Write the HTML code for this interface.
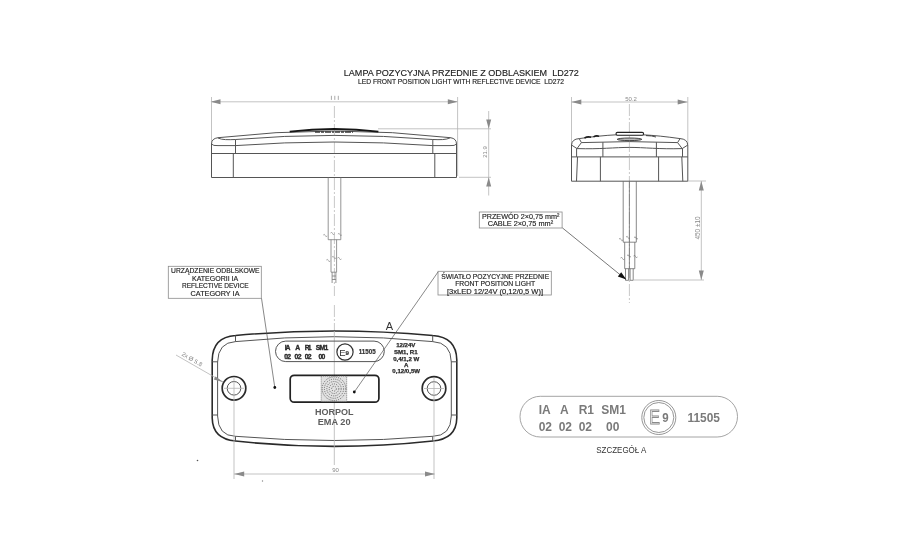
<!DOCTYPE html>
<html><head><meta charset="utf-8">
<style>
html,body{-webkit-font-smoothing:antialiased;margin:0;padding:0;background:#fff;width:900px;height:550px;overflow:hidden}
svg{display:block;filter:grayscale(1)}
text{font-family:"Liberation Sans",sans-serif}
.b{fill:none;stroke:#555;stroke-width:1}
.d{fill:none;stroke:#b4b4b4;stroke-width:0.8}
.c{fill:none;stroke:#b0b0b0;stroke-width:0.7;stroke-dasharray:12 2 2 2}
.ar{fill:#8a8a8a;stroke:none}
.lb{fill:none;stroke:#8a8a8a;stroke-width:0.8}
.t{fill:#222;stroke:#222;stroke-width:0.15}
.dt{fill:#888}
</style></head>
<body>
<svg width="900" height="550" viewBox="0 0 900 550">
<rect width="900" height="550" fill="#fff"/>

<!-- TITLE -->
<text x="343.8" y="76.2" font-size="9.3" textLength="235" lengthAdjust="spacingAndGlyphs" class="t">LAMPA POZYCYJNA PRZEDNIE Z ODBLASKIEM&#160; LD272</text>
<text x="358" y="83.8" font-size="7.5" textLength="206" lengthAdjust="spacingAndGlyphs" class="t">LED FRONT POSITION LIGHT WITH REFLECTIVE DEVICE&#160; LD272</text>

<!-- ===== FRONT VIEW ===== -->
<g id="front">
  <!-- dimension 111 -->
  <line x1="211.5" y1="101.8" x2="457.5" y2="101.8" class="d"/>
  <path d="M210.5,101.8 L220.5,99.3 L220.5,104.3 Z" class="ar"/>
  <path d="M457.8,101.8 L447.8,99.3 L447.8,104.3 Z" class="ar"/>
  <line x1="211.5" y1="97" x2="211.5" y2="142" class="d"/>
  <line x1="457.6" y1="97" x2="457.6" y2="176" class="d"/>
  <path d="M331.4,95.8 V99.9 M334.8,95.8 V99.9 M338.3,95.8 V99.9" stroke="#aaa" stroke-width="1"/>
  <!-- centerline -->
  <line x1="334.4" y1="106" x2="334.4" y2="296" class="c"/>
  <line x1="334.4" y1="305" x2="334.4" y2="331" class="c" stroke="#bbb"/>
  <!-- dimension 21.9 -->
  <line x1="378" y1="128.8" x2="491" y2="128.8" class="d"/>
  <line x1="459" y1="177.3" x2="491" y2="177.3" class="d"/>
  <line x1="488.7" y1="111" x2="488.7" y2="195.5" class="d"/>
  <path d="M488.7,128.8 L486.2,119.5 L491.2,119.5 Z" class="ar"/>
  <path d="M488.7,177.3 L486.2,186.5 L491.2,186.5 Z" class="ar"/>
  <text transform="translate(486.5,152) rotate(-90)" font-size="6" text-anchor="middle" class="dt">21.9</text>

  <!-- body -->
  <path d="M211.5,177.5 L211.5,144 Q211.5,138.5 218,137.7 Q334,124.3 450.5,137.7 Q456.5,138.5 456.5,144 L456.5,177.5 Z" class="b"/>
  <path d="M289.7,131.6 Q334.4,126.3 378.4,131.6" fill="none" stroke="#151515" stroke-width="1.9"/>
  <line x1="315" y1="131.9" x2="353" y2="131.9" stroke="#3a3a3a" stroke-width="1.5" stroke-dasharray="5 1 3 1 6 1 2 1"/>
  <path d="M218,138 C222,140 228,139.8 235.5,139.5 Q334,131.3 432.8,139.5 C440,139.8 446,140 450.5,137.7" class="b"/>
  <path d="M211.5,144 Q213,146 218,145.6 L235.5,145.6 Q334,138.4 432.8,145.6 L450,145.6 Q455,146 456.5,144" class="b"/>
  <line x1="235.5" y1="139.5" x2="235.5" y2="153.5" class="b"/>
  <line x1="432.8" y1="139.5" x2="432.8" y2="153.5" class="b"/>
  <line x1="211.5" y1="153.5" x2="456.5" y2="153.5" class="b"/>
  <line x1="233.3" y1="153.5" x2="233.3" y2="177.5" class="b"/>
  <line x1="434.8" y1="153.5" x2="434.8" y2="177.5" class="b"/>
  <!-- cable -->
  <g fill="none" stroke="#7a7a7a" stroke-width="0.8">
  <path d="M328.2,177.5 V239.7 H340.8 V177.5"/>
  <path d="M331,239.7 V272.2 H336.6 V239.7"/>
  <path d="M332.1,272.2 V283 M335.9,272.2 V283 M332.1,276 H335.9 M332.1,279.5 H335.9"/>
  <path d="M323.2,235 q1.5,-1.5 2,0.5 q0.5,2 2,0.5 M330.5,233 q1.5,-1.5 2,0.5 q0.5,2 2,0.5 M337.9,234 q1.5,-1.5 2,0.5 q0.5,2 2,0.5" stroke-width="0.6"/>
  <path d="M326.3,260 q1.5,-1.5 2,0.5 q0.5,2 2,0.5 M332,257 q1.5,-1.5 2,0.5 q0.5,2 2,0.5 M337.5,258 q1.5,-1.5 2,0.5 q0.5,2 2,0.5" stroke-width="0.6"/>
  </g>
</g>

<!-- ===== SIDE VIEW ===== -->
<g id="side">
  <line x1="571.3" y1="102" x2="687.7" y2="102" class="d"/>
  <path d="M571.3,102 L581.3,99.5 L581.3,104.5 Z" class="ar"/>
  <path d="M687.7,102 L677.7,99.5 L677.7,104.5 Z" class="ar"/>
  <line x1="571.5" y1="97" x2="571.5" y2="144" class="d"/>
  <line x1="687.8" y1="97" x2="687.8" y2="144" class="d"/>
  <text x="631" y="101" font-size="6" text-anchor="middle" class="dt">50.2</text>
  <line x1="629.4" y1="104" x2="629.4" y2="303" class="c"/>

  <path d="M571.5,181.2 L571.5,145 Q572,139 579.2,138.6 Q600,135.6 616.3,134.8 L643,134.8 Q659,135.6 680,138.6 Q687.3,139 687.8,145 L687.8,181.2 Z" class="b"/>
  <path d="M579.2,138.6 L581.4,142.6 Q629.5,140.6 677.6,142.6 L680,138.6" class="b"/>
  <path d="M581.4,142.6 L577,148.6 L571.5,145 M677.6,142.6 L682.2,148.6 L687.8,145" class="b"/>
  <path d="M577,148.6 C600,149.3 615,147.4 629.5,147.4 C644,147.4 659,149.3 682.2,148.6" class="b"/>
  <line x1="576.6" y1="148.6" x2="576.6" y2="156.9" class="b"/>
  <line x1="682.5" y1="148.6" x2="682.5" y2="156.9" class="b"/>
  <line x1="602.9" y1="142.2" x2="602.9" y2="156.9" class="b"/>
  <line x1="656.4" y1="142.2" x2="656.4" y2="156.9" class="b"/>
  <line x1="571.5" y1="156.9" x2="687.8" y2="156.9" class="b"/>
  <line x1="600.4" y1="156.9" x2="600.4" y2="181.2" class="b"/>
  <line x1="658.6" y1="156.9" x2="658.6" y2="181.2" class="b"/>
  <line x1="577.5" y1="156.9" x2="576.5" y2="181.2" class="b"/>
  <line x1="681.8" y1="156.9" x2="682.8" y2="181.2" class="b"/>
  <rect x="616" y="132.4" width="27.6" height="2.9" rx="1.45" fill="#fff" stroke="#222" stroke-width="1.1"/>
  <ellipse cx="629.5" cy="139.3" rx="12.3" ry="1.3" fill="#bbb" stroke="#333" stroke-width="0.9"/>
  <path d="M584.5,138 Q588,136 591,137.3 M593.5,136.8 Q596.5,135 599,136.3" stroke="#1a1a1a" stroke-width="1.5" fill="none"/>
  <path d="M646,135.6 Q652,135.6 656,137" stroke="#333" stroke-width="0.9" fill="none"/>
  <!-- cable -->
  <g fill="none" stroke="#6a6a6a" stroke-width="0.8">
  <path d="M623.2,181.2 V242.2 H636.3 V181.2"/>
  <path d="M629.4,181.2 V268.7"/>
  <path d="M624.7,242.2 V268.7 H634.8 V242.2"/>
  <path d="M625.5,268.7 V280.3 H628.6 V268.7 M630.1,268.7 V280.3 H633.2 V268.7"/>
  <path d="M619,239 q1.5,-1.5 2,0.5 q0.5,2 2,0.5 M626,237 q1.5,-1.5 2,0.5 q0.5,2 2,0.5 M634,237.5 q1.5,-1.5 2,0.5 q0.5,2 2,0.5" stroke-width="0.6"/>
  <path d="M620.5,258 q1.5,-1.5 2,0.5 q0.5,2 2,0.5 M627,255.5 q1.5,-1.5 2,0.5 q0.5,2 2,0.5 M633.5,256 q1.5,-1.5 2,0.5 q0.5,2 2,0.5" stroke-width="0.6"/>
  </g>
  <!-- dim 450 -->
  <line x1="633.5" y1="280" x2="704" y2="280" class="d"/>
  <line x1="688" y1="181" x2="706" y2="181" class="d"/>
  <line x1="701.3" y1="181" x2="701.3" y2="280" class="d"/>
  <path d="M701.3,181 L698.8,190.5 L703.8,190.5 Z" class="ar"/>
  <path d="M701.3,280 L698.8,270.5 L703.8,270.5 Z" class="ar"/>
  <text transform="translate(699.8,228) rotate(-90)" font-size="6.8" text-anchor="middle" textLength="23" lengthAdjust="spacingAndGlyphs" class="dt">450 ±10</text>
  <!-- leader -->
  <line x1="562.3" y1="227.8" x2="626" y2="279.5" stroke="#555" stroke-width="0.8"/>
  <path d="M626.3,279.6 L617.8,276.4 L621.2,272.2 Z" fill="#111"/>
</g>

<!-- label boxes -->
<rect x="479.3" y="212" width="82.8" height="16" class="lb"/>
<text x="520.7" y="218.7" font-size="7.6" text-anchor="middle" textLength="77.6" lengthAdjust="spacingAndGlyphs" class="t">PRZEWÓD 2×0,75 mm²</text>
<text x="520.4" y="225.6" font-size="7.6" text-anchor="middle" textLength="65.4" lengthAdjust="spacingAndGlyphs" class="t">CABLE 2×0,75 mm²</text>

<rect x="438" y="271.3" width="113.3" height="23.7" class="lb"/>
<text x="495.2" y="278.7" font-size="7.1" text-anchor="middle" textLength="108" lengthAdjust="spacingAndGlyphs" class="t">ŚWIATŁO POZYCYJNE PRZEDNIE</text>
<text x="495.2" y="285.8" font-size="7.1" text-anchor="middle" textLength="80" lengthAdjust="spacingAndGlyphs" class="t">FRONT POSITION LIGHT</text>
<text x="495" y="293.7" font-size="7.1" text-anchor="middle" textLength="96" lengthAdjust="spacingAndGlyphs" class="t">[3xLED 12/24V (0,12/0,5 W)]</text>

<rect x="168.3" y="266.3" width="93" height="32" class="lb"/>
<text x="215.3" y="273.2" font-size="7.2" text-anchor="middle" textLength="88.6" lengthAdjust="spacingAndGlyphs" class="t">URZĄDZENIE ODBLSKOWE</text>
<text x="215.1" y="280.5" font-size="7.2" text-anchor="middle" textLength="46.2" lengthAdjust="spacingAndGlyphs" class="t">KATEGORII IA</text>
<text x="215.3" y="288.4" font-size="7.2" text-anchor="middle" textLength="66.6" lengthAdjust="spacingAndGlyphs" class="t">REFLECTIVE DEVICE</text>
<text x="215.05" y="295.5" font-size="7.2" text-anchor="middle" textLength="48.9" lengthAdjust="spacingAndGlyphs" class="t">CATEGORY IA</text>

<!-- ===== BOTTOM VIEW ===== -->
<g id="bottom">
  <!-- outer contour -->
  <path d="M235.5,335.5 Q334,326.5 432.7,335.5 Q456.4,337 456.8,360 L456.8,418 Q456.4,439 432.7,441 Q334,451.8 235.5,441 Q212.6,439 212.2,418 L212.2,360 Q212.6,337 235.5,335.5 Z" fill="none" stroke="#2a2a2a" stroke-width="1.6"/>
  <path d="M235.5,341.6 Q334,331.8 432.7,341.6 Q451,342.5 451.3,362 L451.3,416 Q451,436 432.7,436.3 Q334,444.7 235.5,436.3 Q218,436 217.6,416 L217.6,362 Q218,342.5 235.5,341.6 Z" class="b" stroke-width="0.8"/>
  <line x1="235.5" y1="335.5" x2="235.5" y2="341.6" class="b" stroke-width="0.6"/>
  <line x1="432.7" y1="335.5" x2="432.7" y2="341.6" class="b" stroke-width="0.6"/>
  <line x1="212.2" y1="361.8" x2="217.6" y2="361.8" class="b" stroke-width="0.6"/>
  <line x1="451.3" y1="361.8" x2="456.8" y2="361.8" class="b" stroke-width="0.6"/>
  <line x1="212.2" y1="415" x2="217.6" y2="415" class="b" stroke-width="0.6"/>
  <line x1="451.3" y1="415" x2="456.8" y2="415" class="b" stroke-width="0.6"/>
  <line x1="235.5" y1="436.3" x2="235.5" y2="441" class="b" stroke-width="0.6"/>
  <line x1="432.7" y1="436.3" x2="432.7" y2="441" class="b" stroke-width="0.6"/>

  <!-- holes -->
  <circle cx="234" cy="388.3" r="11.8" fill="none" stroke="#2a2a2a" stroke-width="1.7"/>
  <circle cx="234" cy="388.3" r="6.8" class="b" stroke-width="0.9"/>
  <circle cx="434" cy="388.5" r="11.8" fill="none" stroke="#2a2a2a" stroke-width="1.7"/>
  <circle cx="434" cy="388.5" r="6.8" class="b" stroke-width="0.9"/>
  <line x1="224" y1="388.3" x2="244" y2="388.3" class="d" stroke-width="0.6"/>
  <line x1="424" y1="388.5" x2="444" y2="388.5" class="d" stroke-width="0.6"/>
  <line x1="234" y1="378" x2="234" y2="479" class="d" stroke-width="0.7"/>
  <line x1="434" y1="378" x2="434" y2="479" class="d" stroke-width="0.7"/>
  <line x1="334.3" y1="331" x2="334.3" y2="465" class="d" stroke-width="0.7"/>

  <!-- dimension 90 -->
  <line x1="234" y1="474" x2="434.5" y2="474" class="d"/>
  <path d="M234.2,474 L244.2,471.5 L244.2,476.5 Z" class="ar"/>
  <path d="M435,474 L425,471.5 L425,476.5 Z" class="ar"/>
  <text x="335.5" y="472" font-size="6" text-anchor="middle" class="dt">90</text>

  <!-- 2x dia leader -->
  <line x1="176" y1="355" x2="223" y2="382" class="d" stroke-width="0.7"/>
  <path d="M223.5,382.3 L215.5,376.5 L213.8,379.5 Z" class="ar"/>
  <text transform="translate(191,361) rotate(30)" font-size="6" text-anchor="middle" class="dt">2x Ø 5.8</text>

  <!-- label pill -->
  <rect x="275.5" y="341.1" width="108.8" height="20.5" rx="10.25" class="b" stroke="#777" stroke-width="0.7"/>
  <g font-size="6.8" font-weight="bold" fill="#2a2a2a" stroke="#2a2a2a" stroke-width="0.35" lengthAdjust="spacingAndGlyphs">
    <text x="284.7" y="350" textLength="5.8">IA</text>
    <text x="295.2" y="350" textLength="4.5">A</text>
    <text x="304.8" y="350" textLength="6.8">R1</text>
    <text x="315.7" y="350" textLength="12.7">SM1</text>
    <text x="284.3" y="358.6" textLength="6.8">02</text>
    <text x="294.6" y="358.6" textLength="7">02</text>
    <text x="304.8" y="358.6" textLength="6.8">02</text>
    <text x="318.4" y="358.6" textLength="6.9">00</text>
  </g>
  <text x="358.7" y="354.2" textLength="17" font-size="6.6" font-weight="bold" fill="#333" stroke="#333" stroke-width="0.2" lengthAdjust="spacingAndGlyphs">11505</text>
  <circle cx="345" cy="352" r="8.1" fill="none" stroke="#333" stroke-width="1.2"/>
  <text x="339.2" y="355.8" font-size="9.5" fill="#333">E</text>
  <text x="345.6" y="355" font-size="6.2" font-weight="bold" fill="#333" stroke="#333" stroke-width="0.2">9</text>

  <!-- voltage text -->
  <g font-size="6.1" font-weight="bold" fill="#2a2a2a" stroke="#2a2a2a" stroke-width="0.25" text-anchor="middle">
    <text x="405.8" y="347.2">12/24V</text>
    <text x="405.8" y="354.3">SM1, R1</text>
    <text x="406.2" y="360.5">0,4/1,2 W</text>
    <text x="406.2" y="366.6">A</text>
    <text x="406.2" y="373.4">0,12/0,5W</text>
  </g>

  <!-- window -->
  <rect x="290.2" y="375.3" width="88.7" height="26.9" rx="4" fill="none" stroke="#222" stroke-width="1.7"/>
  <rect x="321.2" y="376.2" width="25.5" height="25.2" fill="#e2e2e2" stroke="#666" stroke-width="0.8" stroke-dasharray="1 1"/>
  <g fill="none" stroke="#555" stroke-width="0.8" stroke-dasharray="1.1 1.1">
    <circle cx="334" cy="388.7" r="11.8"/>
    <circle cx="334" cy="388.7" r="9.6"/>
    <circle cx="334" cy="388.7" r="7.2"/>
    <circle cx="334" cy="388.7" r="4.8"/>
    <circle cx="334" cy="388.7" r="2.4"/>
  </g>
  <!-- HORPOL -->
  <text x="334.3" y="414.7" font-size="9.3" font-weight="bold" fill="#5e5e5e" text-anchor="middle" textLength="38.6" lengthAdjust="spacingAndGlyphs">HORPOL</text>
  <text x="334.1" y="424.7" font-size="9.3" font-weight="bold" fill="#5e5e5e" text-anchor="middle" textLength="32.8" lengthAdjust="spacingAndGlyphs">EMA 20</text>

  <!-- leaders -->
  <line x1="261.5" y1="298.3" x2="274.8" y2="387.5" stroke="#555" stroke-width="0.7"/>
  <circle cx="274.8" cy="387.5" r="1.4" fill="#111"/>
  <line x1="438" y1="272" x2="354.3" y2="392" stroke="#555" stroke-width="0.7"/>
  <circle cx="354.3" cy="392" r="1.4" fill="#111"/>
  <!-- A -->
  <text x="389.3" y="330" font-size="11" fill="#333" text-anchor="middle">A</text>
</g>

<circle cx="197.5" cy="460.5" r="0.8" fill="#555"/>
<circle cx="262.5" cy="481" r="0.7" fill="#888"/>

<!-- ===== DETAIL A ===== -->
<g id="detail">
  <rect x="520" y="396.3" width="217.5" height="40.7" rx="20.3" fill="none" stroke="#9a9a9a" stroke-width="0.9"/>
  <g font-size="12" font-weight="bold" fill="#7a7a7a">
    <text x="538.7" y="413.8">IA</text>
    <text x="560" y="413.8">A</text>
    <text x="578.7" y="413.8">R1</text>
    <text x="601.2" y="413.8">SM1</text>
    <text x="538.7" y="431.3">02</text>
    <text x="558.7" y="431.3">02</text>
    <text x="578.7" y="431.3">02</text>
    <text x="606" y="431.3">00</text>
    <text x="687.5" y="422.2" font-size="12.5" textLength="32.5" lengthAdjust="spacingAndGlyphs">11505</text>
  </g>
  <circle cx="658.8" cy="417.5" r="17" fill="none" stroke="#8a8a8a" stroke-width="0.9"/>
  <circle cx="658.8" cy="417.5" r="15" fill="none" stroke="#8a8a8a" stroke-width="0.9"/>
  <text x="649.3" y="424" font-size="20" fill="none" stroke="#8a8a8a" stroke-width="0.9" textLength="10.7" lengthAdjust="spacingAndGlyphs">E</text>
  <text x="662.2" y="421.7" font-size="13.6" font-weight="bold" fill="#7a7a7a" textLength="6.4" lengthAdjust="spacingAndGlyphs">9</text>
  <text x="621.3" y="452.5" font-size="8.3" fill="#333" text-anchor="middle" textLength="50" lengthAdjust="spacingAndGlyphs">SZCZEGÓŁ A</text>
</g>

</svg>
</body></html>
